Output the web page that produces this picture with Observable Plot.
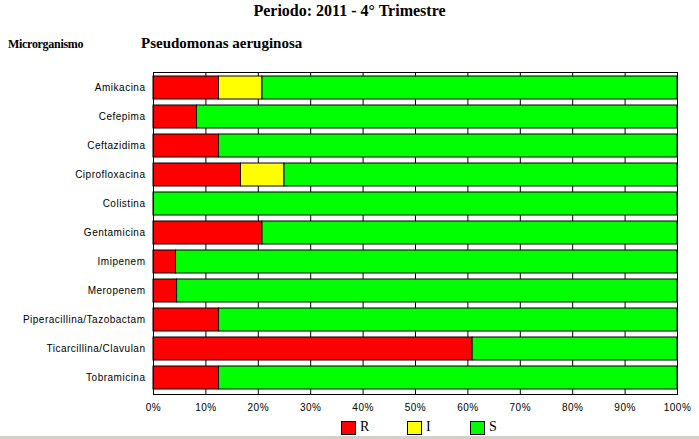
<!DOCTYPE html>
<html><head><meta charset="utf-8">
<script src="https://cdn.jsdelivr.net/npm/d3@7"></script>
<script src="https://cdn.jsdelivr.net/npm/@observablehq/plot@0.6"></script>
<style>
body{margin:0;background:#fff;width:699px;height:439px;overflow:hidden;position:relative;font-family:"Liberation Serif",serif;}
#head{position:relative;height:60px;}
.t{position:absolute;font-weight:bold;white-space:nowrap;}
#chart{height:360px;}
#chart svg{display:block;}
#chart svg text{letter-spacing:0.5px;}
#legend{position:relative;height:19px;}
.box{position:absolute;width:13px;height:12px;border:1px solid #000;top:1px;}
.lab{position:absolute;top:-1px;font-size:14px;}
#edge{position:absolute;left:0;top:436px;width:699px;height:3px;background:#d4d0c8;}
</style></head><body>
<div id="head">
  <div class="t" style="left:0;width:699px;text-align:center;top:2px;font-size:16px;">Periodo: 2011 - 4° Trimestre</div>
  <div class="t" style="left:8px;top:37px;font-size:12px;letter-spacing:-0.3px;">Microrganismo</div>
  <div class="t" style="left:141px;top:35px;font-size:15px;">Pseudomonas aeruginosa</div>
</div>
<div id="chart"></div>
<div id="legend"></div>
<div id="edge"></div>
<script>
const categories = ["Amikacina","Cefepima","Ceftazidima","Ciprofloxacina","Colistina","Gentamicina","Imipenem","Meropenem","Piperacillina/Tazobactam","Ticarcillina/Clavulan","Tobramicina"];
const valuesR = [12.5, 8.3, 12.5, 16.7, 0, 20.8, 4.3, 4.5, 12.5, 60.9, 12.5];
const valuesI = [8.3, 0, 0, 8.3, 0, 0, 0, 0, 0, 0, 0];
const valuesS = [79.2, 91.7, 87.5, 75.0, 100, 79.2, 95.7, 95.5, 87.5, 39.1, 87.5];
const seriesNames = ["R","I","S"];
const seriesColors = ["#ff0000","#ffff00","#00ff00"];
const tickValues = [0,10,20,30,40,50,60,70,80,90,100];

const rows = [];
categories.forEach((c,i)=>{
  rows.push({cat:c, s:"R", v:valuesR[i]});
  rows.push({cat:c, s:"I", v:valuesI[i]});
  rows.push({cat:c, s:"S", v:valuesS[i]});
});

const chart = Plot.plot({
  width:699, height:360,
  marginLeft:153, marginRight:22, marginTop:12, marginBottom:26,
  style:{fontFamily:"'Liberation Sans', Arial, sans-serif", fontSize:"10px", color:"#000", background:"#fff"},
  x:{domain:[0,100], ticks:tickValues, tickFormat:d=>d+"%", label:null, tickSize:0, tickPadding:9},
  y:{domain:categories, label:null, tickSize:0, tickPadding:8, paddingInner:0.19, paddingOuter:0.1},
  color:{domain:seriesNames, range:seriesColors},
  marks:[
    Plot.ruleX(tickValues, {stroke:"#000", strokeWidth:1}),
    Plot.barX(rows.filter(d=>d.v>0), Plot.stackX({x:"v", y:"cat", fill:"s", order:seriesNames, stroke:"#000", strokeWidth:1})),
    Plot.frame({stroke:"#000"})
  ]
});
document.getElementById("chart").appendChild(chart);

const lg = document.getElementById("legend");
const lx = [341, 407, 470];
seriesNames.forEach((n,i)=>{
  const b = document.createElement("div"); b.className="box"; b.style.left=lx[i]+"px"; b.style.background=seriesColors[i]; lg.appendChild(b);
  const t = document.createElement("div"); t.className="lab"; t.style.left=(lx[i]+19)+"px"; t.textContent=n; lg.appendChild(t);
});
</script>
</body></html>
